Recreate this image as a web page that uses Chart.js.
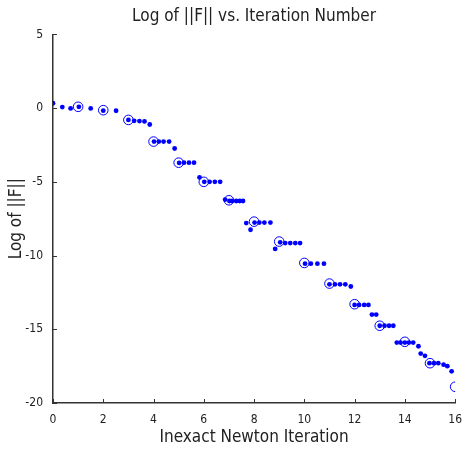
<!DOCTYPE html>
<html lang="en">
<head>
    <meta charset="UTF-8">
    <title>Log of ||F|| vs. Iteration Number</title>
    <script src="https://cdn.jsdelivr.net/npm/chart.js@4"></script>
    <style>
        html, body { margin: 0; padding: 0; background: #fff; }
        #wrap { width: 464px; height: 453px; }
    </style>
</head>
<body>
    <div id="wrap"><canvas id="myChart" width="464" height="453"></canvas></div>

    <script>
        // inner (inexact) steps
        const innerX = [0, 0.37, 0.7, 1.03, 1.5, 2.0, 2.51, 3.0, 3.23, 3.44, 3.64, 3.85,
            4.02, 4.21, 4.4, 4.62, 4.84, 5.02, 5.21, 5.41, 5.61, 5.83,
            6.02, 6.23, 6.44, 6.65, 6.85, 7.02, 7.13, 7.29, 7.43, 7.56, 7.69, 7.86,
            8.02, 8.21, 8.41, 8.65, 8.84, 9.04, 9.24, 9.44, 9.64, 9.83,
            10.03, 10.26, 10.52, 10.78, 11.0, 11.22, 11.42, 11.63, 11.85,
            12.0, 12.18, 12.38, 12.55, 12.69, 12.86, 13.0, 13.19, 13.37, 13.54,
            13.68, 13.83, 14.0, 14.16, 14.33, 14.54, 14.63, 14.8,
            14.98, 15.16, 15.33, 15.54, 15.69, 15.86];
        const innerY = [0.33, 0.07, -0.02, 0.09, -0.02, -0.17, -0.18, -0.8, -0.86, -0.88, -0.9, -1.11,
            -2.27, -2.27, -2.27, -2.27, -2.74, -3.72, -3.7, -3.7, -3.7, -4.7,
            -5.0, -5.0, -5.0, -5.0, -6.2, -6.3, -6.3, -6.3, -6.3, -6.3, -7.8, -8.25,
            -7.76, -7.76, -7.76, -7.76, -9.55, -9.1, -9.15, -9.15, -9.15, -9.15,
            -10.55, -10.55, -10.55, -10.55, -11.95, -11.95, -11.95, -11.95, -12.1,
            -13.35, -13.35, -13.35, -13.35, -14.0, -14.0, -14.76, -14.76, -14.76, -14.76,
            -15.9, -15.9, -15.9, -15.9, -15.9, -16.15, -16.65, -16.8,
            -17.3, -17.3, -17.3, -17.4, -17.5, -17.85];

        // outer newton iterations
        const outerX = [1, 2, 3, 4, 5, 6, 7, 8, 9, 10, 11, 12, 13, 14, 15, 16];
        const outerY = [0.09, -0.14, -0.8, -2.27, -3.7, -5.0, -6.25, -7.7, -9.05, -10.5,
            -11.9, -13.3, -14.76, -15.85, -17.3, -18.9];

        const xTicks = [0, 2, 4, 6, 8, 10, 12, 14, 16];
        const yTicks = [5, 0, -5, -10, -15, -20];

        const fontFamily = "'Liberation Sans Narrow', 'DejaVu Sans Condensed', 'Liberation Sans', sans-serif";
        const axisColor = '#333';

        // matlab style ticks pointing into the plot
        const innerTicks = {
            id: 'innerTicks',
            afterDraw(chart) {
                const ctx = chart.ctx;
                const a = chart.chartArea;
                const xs = chart.scales.x, ys = chart.scales.y;
                ctx.save();
                ctx.strokeStyle = axisColor;
                ctx.lineWidth = 1;
                ctx.beginPath();
                xTicks.forEach(v => {
                    const px = Math.round(xs.getPixelForValue(v)) + 0.5;
                    ctx.moveTo(px, a.bottom);
                    ctx.lineTo(px, a.bottom - 4);
                });
                yTicks.forEach(v => {
                    const py = Math.round(ys.getPixelForValue(v)) + 0.5;
                    ctx.moveTo(a.left, py);
                    ctx.lineTo(a.left + 4, py);
                });
                ctx.stroke();
                ctx.restore();
            }
        };

        const ctx = document.getElementById('myChart').getContext('2d');
        const myChart = new Chart(ctx, {
            type: 'scatter',
            data: {
                datasets: [
                    {
                        label: 'outer',
                        data: outerX.map((x, i) => ({x: x, y: outerY[i]})),
                        pointRadius: 4.8,
                        pointBorderWidth: 1,
                        pointBorderColor: '#0000ff',
                        pointBackgroundColor: 'rgba(0,0,0,0)'
                    },
                    {
                        label: 'inner',
                        data: innerX.map((x, i) => ({x: x, y: innerY[i]})),
                        pointRadius: 2.4,
                        pointBorderWidth: 0,
                        pointBackgroundColor: '#0000ff'
                    }
                ]
            },
            plugins: [innerTicks],
            options: {
                responsive: false,
                animation: false,
                layout: { padding: { left: 0, right: 6, top: 0, bottom: 0 } },
                plugins: {
                    legend: { display: false },
                    tooltip: { enabled: false },
                    title: {
                        display: true,
                        fullSize: false,
                        text: 'Log of ||F|| vs. Iteration Number',
                        color: '#222',
                        font: { family: fontFamily, size: 17, weight: 'normal' },
                        padding: { top: 6, bottom: 8 }
                    }
                },
                scales: {
                    x: {
                        type: 'linear',
                        min: 0,
                        max: 16,
                        afterFit: s => { s.height = 50; },
                        afterBuildTicks: s => { s.ticks = xTicks.map(v => ({value: v})); },
                        grid: { display: false },
                        border: { display: true, color: axisColor, width: 1.5 },
                        ticks: { color: '#222', font: { family: fontFamily, size: 12 }, padding: 2, maxRotation: 0 },
                        title: {
                            display: true,
                            text: 'Inexact Newton Iteration',
                            color: '#222',
                            font: { family: fontFamily, size: 17 },
                            padding: { top: 4, bottom: 5 }
                        }
                    },
                    y: {
                        type: 'linear',
                        min: -20,
                        max: 5,
                        afterFit: s => { s.width = 53; },
                        afterBuildTicks: s => { s.ticks = yTicks.map(v => ({value: v})); },
                        grid: { display: false },
                        border: { display: true, color: axisColor, width: 1.5 },
                        ticks: { color: '#222', font: { family: fontFamily, size: 12 }, padding: 2 },
                        title: {
                            display: true,
                            text: 'Log of ||F||',
                            color: '#222',
                            font: { family: fontFamily, size: 17 },
                            padding: { top: 6, bottom: 0 }
                        }
                    }
                }
            }
        });
    </script>
</body>
</html>
